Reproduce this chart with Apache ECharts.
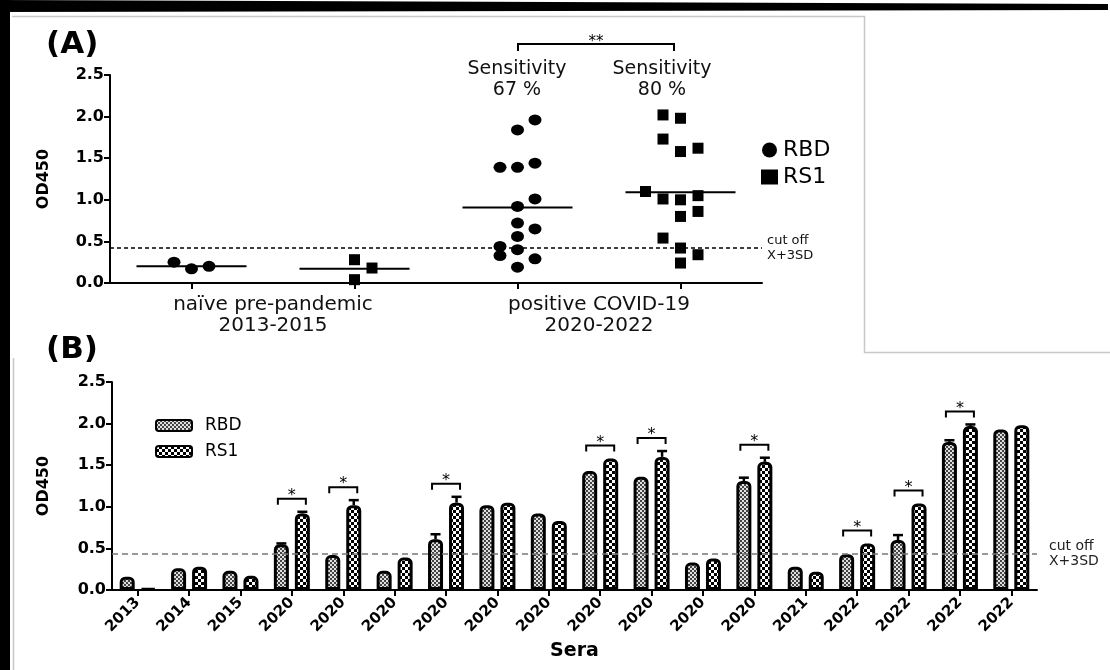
<!DOCTYPE html>
<html>
<head>
<meta charset="utf-8">
<script src="https://cdn.jsdelivr.net/npm/echarts@6/dist/echarts.min.js"></script>
<style>
html,body{margin:0;padding:0;background:#fff;}
#chart{width:1110px;height:670px;}
</style>
</head>
<body>
<div id="chart"></div>
<script>
// ---------- Panel A data ----------
const groupLabelsA = ['naïve pre-pandemic\n2013-2015', 'positive COVID-19\n2020-2022'];
const slotsA = ['naïve RBD', 'naïve RS1', 'COVID RBD', 'COVID RS1'];
// values per slot, with dot column (jitter column within the slot)
const rbdNaiveA = [0.25, 0.17, 0.20];
const rbdNaiveColA = [-1, 0, 1];
const rs1NaiveA = [0.28, 0.18, 0.04];
const rs1NaiveColA = [0, 1, 0];
const rbdCovidA = [1.96, 1.84, 1.39, 1.39, 1.44, 1.01, 0.92, 0.72, 0.65, 0.56, 0.44, 0.40, 0.33, 0.29, 0.19];
const rbdCovidColA = [1, 0, -1, 0, 1, 1, 0, 0, 1, 0, -1, 0, -1, 1, 0];
const rs1CovidA = [2.02, 1.98, 1.73, 1.58, 1.62, 1.10, 1.01, 1.00, 1.05, 0.80, 0.86, 0.54, 0.42, 0.34, 0.24];
const rs1CovidColA = [-1, 0, -1, 0, 1, -2, -1, 0, 1, 0, 1, -1, 0, 1, 0];
const mediansA = [0.20, 0.17, 0.906, 1.09];
const cutoffA = 0.42;
const sensitivityA = ['Sensitivity\n67 %', 'Sensitivity\n80 %'];

// ---------- Panel B data ----------
const categoriesB = ['2013','2014','2015','2020','2020','2020','2020','2020','2020','2020','2020','2020','2020','2021','2022','2022','2022','2022'];
const rbdB =    [0.16, 0.26, 0.23, 0.55, 0.42, 0.23, 0.61, 1.02, 0.92, 1.43, 1.36, 0.33, 1.31, 0.28, 0.43, 0.60, 1.78, 1.93];
const rs1B =    [0.02, 0.28, 0.17, 0.92, 1.02, 0.39, 1.05, 1.05, 0.83, 1.58, 1.60, 0.38, 1.54, 0.22, 0.56, 1.04, 1.97, 1.98];
const rbdErrB = [0, 0, 0, 0.01, 0, 0, 0.06, 0, 0, 0, 0, 0, 0.04, 0, 0, 0.06, 0.02, 0];
const rs1ErrB = [0, 0, 0, 0.02, 0.06, 0, 0.07, 0, 0, 0, 0.07, 0, 0.05, 0, 0, 0, 0.02, 0];
const sigIndexB = [3, 4, 6, 9, 10, 12, 14, 15, 16];
const cutoffB = 0.44;

// ---------- patterns ----------
function makePattern(size, cell, bg, fg) {
  const c = document.createElement('canvas');
  c.width = size; c.height = size;
  const g = c.getContext('2d');
  g.fillStyle = bg; g.fillRect(0, 0, size, size);
  g.fillStyle = fg;
  g.fillRect(0, 0, cell, cell);
  g.fillRect(cell, cell, cell, cell);
  return c;
}
const rbdPattern = { image: makePattern(4, 2, '#e0e0e0', '#444'), repeat: 'repeat' };
const rs1Pattern = { image: makePattern(6, 3, '#000', '#fff'), repeat: 'repeat' };

const FONT = 'DejaVu Sans';
const jitterPx = 17.5;
const barOffsetPx = 10.5;

function pts(slot, vals, cols) {
  return vals.map((v, i) => ({ value: [slot, v], symbolOffset: [cols[i] * jitterPx, 0] }));
}

const chart = echarts.init(document.getElementById('chart'), null, { renderer: 'canvas' });

const boldTick = { fontFamily: FONT, fontWeight: 'bold', fontSize: 16, color: '#000' };

const option = {
  animation: false,
  backgroundColor: '#fff',
  textStyle: { fontFamily: FONT },
  grid: [
    { left: 110, top: 75, width: 652, height: 208, outerBoundsMode: 'none' },
    { left: 112, top: 382, width: 925, height: 208, outerBoundsMode: 'none' }
  ],
  legend: [
    {
      data: [{ name: 'RBD', icon: 'circle' }, { name: 'RS1', icon: 'rect' }],
      orient: 'vertical', left: 756, top: 134,
      itemWidth: 17, itemHeight: 15, itemGap: 5,
      textStyle: { fontFamily: FONT, fontSize: 22, color: '#000' },
      selectedMode: false
    },
    {
      data: ['RBD-B', 'RS1-B'],
      formatter: n => n.replace('-B', ''),
      orient: 'vertical', left: 150, top: 412,
      itemWidth: 36, itemHeight: 11, itemGap: 9,
      textStyle: { fontFamily: FONT, fontSize: 17, color: '#000', padding: [0, 0, 0, 8] },
      selectedMode: false
    }
  ],
  xAxis: [
    {
      gridIndex: 0, type: 'category', data: slotsA,
      axisLine: { show: true, lineStyle: { color: '#000', width: 2 } },
      axisTick: { show: true, alignWithLabel: true, length: 6, lineStyle: { color: '#000', width: 2 } },
      axisLabel: { show: false }
    },
    {
      gridIndex: 0, type: 'category', data: groupLabelsA, position: 'bottom',
      axisLine: { show: false }, axisTick: { show: false },
      axisLabel: { show: true, margin: 11, fontFamily: FONT, fontSize: 20, lineHeight: 21, color: '#111' }
    },
    {
      gridIndex: 1, type: 'category', data: categoriesB,
      axisLine: { show: true, lineStyle: { color: '#000', width: 2 } },
      axisTick: { show: true, alignWithLabel: true, length: 6, lineStyle: { color: '#000', width: 2 } },
      axisLabel: { show: true, rotate: 45, margin: 10, interval: 0, fontFamily: FONT, fontWeight: 'bold', fontSize: 15, color: '#000' },
      name: 'Sera', nameLocation: 'middle', nameGap: 52,
      nameTextStyle: { fontFamily: FONT, fontWeight: 'bold', fontSize: 19, color: '#000' }
    }
  ],
  yAxis: [
    {
      gridIndex: 0, type: 'value', min: 0, max: 2.5, interval: 0.5,
      axisLine: { show: true, lineStyle: { color: '#000', width: 2 } },
      axisTick: { show: true, length: 6, lineStyle: { color: '#000', width: 2 } },
      splitLine: { show: false },
      axisLabel: Object.assign({ margin: 6, formatter: v => v.toFixed(1) }, boldTick),
      name: 'OD450', nameLocation: 'middle', nameGap: 58,
      nameTextStyle: { fontFamily: FONT, fontWeight: 'bold', fontSize: 16, color: '#000' }
    },
    {
      gridIndex: 1, type: 'value', min: 0, max: 2.5, interval: 0.5,
      axisLine: { show: true, lineStyle: { color: '#000', width: 2 } },
      axisTick: { show: true, length: 6, lineStyle: { color: '#000', width: 2 } },
      splitLine: { show: false },
      axisLabel: Object.assign({ margin: 6, formatter: v => v.toFixed(1) }, boldTick),
      name: 'OD450', nameLocation: 'middle', nameGap: 60,
      nameTextStyle: { fontFamily: FONT, fontWeight: 'bold', fontSize: 16, color: '#000' }
    }
  ],
  series: [
    {
      name: 'RBD', type: 'scatter', xAxisIndex: 0, yAxisIndex: 0,
      symbol: 'circle', symbolSize: [13, 11],
      itemStyle: { color: '#000', opacity: 1 },
      data: pts(0, rbdNaiveA, rbdNaiveColA).concat(pts(2, rbdCovidA, rbdCovidColA)),
      markLine: {
        silent: true, symbol: 'none',
        lineStyle: { color: '#000', type: [4, 3], width: 1.5 },
        label: { show: true, position: 'end', distance: 5, formatter: 'cut off\nX+3SD', fontFamily: FONT, fontSize: 13, lineHeight: 15, color: '#111' },
        data: [{ yAxis: cutoffA }]
      }
    },
    {
      name: 'RS1', type: 'scatter', xAxisIndex: 0, yAxisIndex: 0,
      symbol: 'rect', symbolSize: 11,
      itemStyle: { color: '#000', opacity: 1 },
      data: pts(1, rs1NaiveA, rs1NaiveColA).concat(pts(3, rs1CovidA, rs1CovidColA))
    },
    {
      name: 'median', type: 'custom', xAxisIndex: 0, yAxisIndex: 0,
      data: mediansA.map((m, i) => [i, m]),
      renderItem: (params, api) => {
        const c = api.coord([api.value(0), api.value(1)]);
        const w = api.size([1, 0])[0] * 0.675;
        return { type: 'line', shape: { x1: c[0] - w / 2, y1: c[1], x2: c[0] + w / 2, y2: c[1] }, style: { stroke: '#000', lineWidth: 2 } };
      },
      z: 1
    },
    {
      name: 'RBD-B', type: 'bar', xAxisIndex: 2, yAxisIndex: 1,
      barWidth: 15, barGap: '40%',
      itemStyle: { color: rbdPattern, borderColor: '#000', borderWidth: 3, borderRadius: [4, 4, 0, 0] },
      data: rbdB,
      markLine: {
        silent: true, symbol: 'none',
        lineStyle: { color: '#777', type: [6, 4], width: 1.5 },
        label: { show: true, position: 'end', distance: 12, formatter: 'cut off\nX+3SD', fontFamily: FONT, fontSize: 14, lineHeight: 15, color: '#222' },
        data: [{ yAxis: cutoffB }]
      }
    },
    {
      name: 'RS1-B', type: 'bar', xAxisIndex: 2, yAxisIndex: 1,
      barWidth: 15, barGap: '40%',
      itemStyle: { color: rs1Pattern, borderColor: '#000', borderWidth: 3, borderRadius: [4, 4, 0, 0] },
      data: rs1B
    },
    {
      name: 'errors', type: 'custom', xAxisIndex: 2, yAxisIndex: 1,
      data: rbdB.map((v, i) => [i, rbdB[i], rbdErrB[i], rs1B[i], rs1ErrB[i]]),
      renderItem: (params, api) => {
        const i = api.value(0);
        const children = [];
        [[api.value(1), api.value(2), -barOffsetPx], [api.value(3), api.value(4), barOffsetPx]].forEach(([v, e, off]) => {
          if (e > 0) {
            const p0 = api.coord([i, v]);
            const p1 = api.coord([i, v + e]);
            const x = p0[0] + off;
            children.push({ type: 'line', shape: { x1: x, y1: p0[1], x2: x, y2: p1[1] }, style: { stroke: '#000', lineWidth: 2.5 } });
            children.push({ type: 'line', shape: { x1: x - 5, y1: p1[1], x2: x + 5, y2: p1[1] }, style: { stroke: '#000', lineWidth: 2.5 } });
          }
        });
        return { type: 'group', children };
      },
      z: 3
    },
    {
      name: 'significance', type: 'custom', xAxisIndex: 2, yAxisIndex: 1,
      data: sigIndexB.map(i => [i, Math.max(rbdB[i] + rbdErrB[i], rs1B[i] + rs1ErrB[i])]),
      renderItem: (params, api) => {
        const c = api.coord([api.value(0), api.value(1)]);
        const y = c[1] - 13;
        const x1 = c[0] - 14, x2 = c[0] + 14;
        return {
          type: 'group', children: [
            { type: 'polyline', shape: { points: [[x1, y + 6], [x1, y], [x2, y], [x2, y + 6]] }, style: { stroke: '#000', lineWidth: 2, fill: null } },
            { type: 'text', style: { text: '*', x: c[0], y: y + 5, align: 'center', verticalAlign: 'bottom', fontFamily: FONT, fontSize: 16, fill: '#000' } }
          ]
        };
      },
      z: 3
    }
  ],
  graphic: [
    // figure frame
    { type: 'polygon', shape: { points: [[0, 0], [1108, 4], [1108, 10], [0, 12]] }, style: { fill: '#000' }, silent: true },
    { type: 'rect', shape: { x: 0, y: 0, width: 10, height: 670 }, style: { fill: '#000' }, silent: true },
    { type: 'polyline', shape: { points: [[12, 16.5], [864.5, 16.5], [864.5, 352.5], [1110, 352.5]] }, style: { stroke: '#c8c8c8', lineWidth: 1.5, fill: null }, silent: true },
    { type: 'line', shape: { x1: 13.5, y1: 358, x2: 13.5, y2: 670 }, style: { stroke: '#c8c8c8', lineWidth: 1.5 }, silent: true },
    // panel titles
    { type: 'text', left: 46, top: 29, style: { text: '(A)', fontFamily: FONT, fontWeight: 'bold', fontSize: 31, fill: '#000' } },
    { type: 'text', left: 46, top: 334, style: { text: '(B)', fontFamily: FONT, fontWeight: 'bold', fontSize: 31, fill: '#000' } },
    // sensitivity annotations
    { type: 'text', x: 517, y: 59, style: { text: sensitivityA[0], align: 'center', fontFamily: FONT, fontSize: 19, lineHeight: 21, fill: '#111' } },
    { type: 'text', x: 662, y: 59, style: { text: sensitivityA[1], align: 'center', fontFamily: FONT, fontSize: 19, lineHeight: 21, fill: '#111' } },
    { type: 'polyline', shape: { points: [[518, 51], [518, 44], [674, 44], [674, 51]] }, style: { stroke: '#000', lineWidth: 2, fill: null } },
    { type: 'text', x: 596, y: 50, style: { text: '**', align: 'center', verticalAlign: 'bottom', fontFamily: FONT, fontSize: 15, fill: '#000' } }
  ]
};
chart.setOption(option);
</script>
</body>
</html>
